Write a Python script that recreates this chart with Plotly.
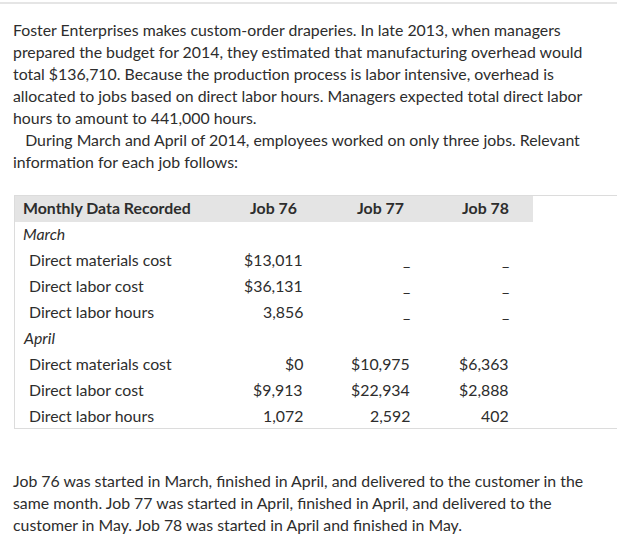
import plotly.graph_objects as go

W, H = 617, 551
FONT = "Lato, 'Open Sans', sans-serif"
TXT = "#2d2d2d"
FS = 15.85

intro_lines = [
    "Foster Enterprises makes custom-order draperies. In late 2013, when managers",
    "prepared the budget for 2014, they estimated that manufacturing overhead would",
    "total $136,710. Because the production process is labor intensive, overhead is",
    "allocated to jobs based on direct labor hours. Managers expected total direct labor",
    "hours to amount to 441,000 hours.",
    "   During March and April of 2014, employees worked on only three jobs. Relevant",
    "information for each job follows:",
]
outro_lines = [
    "Job 76 was started in March, finished in April, and delivered to the customer in the",
    "same month. Job 77 was started in April, finished in April, and delivered to the",
    "customer in May. Job 78 was started in April and finished in May.",
]

header_label = "Monthly Data Recorded"
jobs = ["Job 76", "Job 77", "Job 78"]
row_labels = ["March", "Direct materials cost", "Direct labor cost", "Direct labor hours",
              "April", "Direct materials cost", "Direct labor cost", "Direct labor hours"]
is_section = [True, False, False, False, True, False, False, False]
job76 = ["", "$13,011", "$36,131", "3,856", "", "$0", "$9,913", "1,072"]
job77 = ["", "_", "_", "_", "", "$10,975", "$22,934", "2,592"]
job78 = ["", "_", "_", "_", "", "$6,363", "$2,888", "402"]

fig = go.Figure()
ann = []
shapes = []

def txt(x, y, s, anchor="left", size=FS, color=TXT):
    ann.append(dict(x=x, y=y, text=s, xref="x", yref="y", xanchor=anchor, yanchor="middle",
                    showarrow=False, borderpad=0,
                    font=dict(family=FONT, size=size, color=color)))

# top rule
shapes.append(dict(type="line", x0=0, x1=W, y0=3, y1=3, xref="x", yref="y",
                   line=dict(color="#dcdcdc", width=1.5)))

y0, dy = 29, 22
for i, line in enumerate(intro_lines):
    txt(12, y0 + i * dy, line.replace("   ", "&nbsp;&nbsp;&nbsp;"))

# table frame
shapes.append(dict(type="rect", x0=14, x1=533, y0=196, y1=222, xref="x", yref="y",
                   fillcolor="#e4e4e4", line=dict(width=0), layer="below"))
shapes.append(dict(type="line", x0=14, x1=W, y0=195.5, y1=195.5, xref="x", yref="y",
                   line=dict(color="#dcdcdc", width=1)))
shapes.append(dict(type="line", x0=14, x1=W, y0=428.5, y1=428.5, xref="x", yref="y",
                   line=dict(color="#dcdcdc", width=1)))
shapes.append(dict(type="line", x0=14.5, x1=14.5, y0=195, y1=429, xref="x", yref="y",
                   line=dict(color="#dcdcdc", width=1)))

txt(22, 207, "<b>" + header_label + "</b>")
for x, j in zip([273, 380, 485], jobs):
    txt(x, 207, "<b>" + j + "</b>", anchor="center")

row_y0, row_dy = 233, 26
for i, lab in enumerate(row_labels):
    y = row_y0 + i * row_dy
    if is_section[i]:
        txt(22, y, "<i>" + lab + "</i>")
    else:
        txt(28, y, lab)
    for x, col in zip([304, 411, 510], [job76, job77, job78]):
        if col[i]:
            txt(x, y, col[i], anchor="right")

for i, line in enumerate(outro_lines):
    txt(12, 480 + i * dy, line)

fig.update_layout(
    width=W, height=H, margin=dict(l=0, r=0, t=0, b=0),
    paper_bgcolor="white", plot_bgcolor="white",
    xaxis=dict(range=[0, W], visible=False, fixedrange=True),
    yaxis=dict(range=[H, 0], visible=False, fixedrange=True),
    annotations=ann, shapes=shapes, showlegend=False,
)
fig.write_html("out.html", config={"displayModeBar": False},
               post_script="document.body.style.margin='0';")
